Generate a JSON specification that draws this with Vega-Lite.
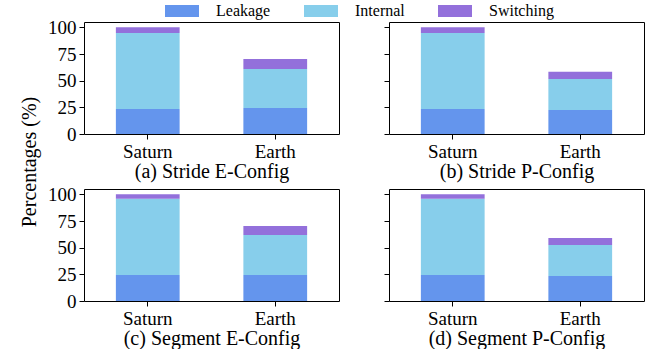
{
  "$schema": "https://vega.github.io/schema/vega-lite/v6.json",
  "padding": {"left": 19, "top": 3, "right": 0, "bottom": 0},
  "bounds": "flush",
  "columns": 2,
  "spacing": {"row": 55, "column": 50},
  "data": {"values": [
    {"panel": "a", "planet": "Saturn", "component": "Leakage", "k": 1, "value": 23.4},
    {"panel": "a", "planet": "Saturn", "component": "Internal", "k": 2, "value": 71.3},
    {"panel": "a", "planet": "Saturn", "component": "Switching", "k": 3, "value": 5.3},
    {"panel": "a", "planet": "Earth", "component": "Leakage", "k": 1, "value": 24.4},
    {"panel": "a", "planet": "Earth", "component": "Internal", "k": 2, "value": 36.5},
    {"panel": "a", "planet": "Earth", "component": "Switching", "k": 3, "value": 9.4},
    {"panel": "b", "planet": "Saturn", "component": "Leakage", "k": 1, "value": 23.4},
    {"panel": "b", "planet": "Saturn", "component": "Internal", "k": 2, "value": 71.3},
    {"panel": "b", "planet": "Saturn", "component": "Switching", "k": 3, "value": 5.3},
    {"panel": "b", "planet": "Earth", "component": "Leakage", "k": 1, "value": 22.5},
    {"panel": "b", "planet": "Earth", "component": "Internal", "k": 2, "value": 29.1},
    {"panel": "b", "planet": "Earth", "component": "Switching", "k": 3, "value": 6.8},
    {"panel": "c", "planet": "Saturn", "component": "Leakage", "k": 1, "value": 24.4},
    {"panel": "c", "planet": "Saturn", "component": "Internal", "k": 2, "value": 71.4},
    {"panel": "c", "planet": "Saturn", "component": "Switching", "k": 3, "value": 4.2},
    {"panel": "c", "planet": "Earth", "component": "Leakage", "k": 1, "value": 24.4},
    {"panel": "c", "planet": "Earth", "component": "Internal", "k": 2, "value": 37.5},
    {"panel": "c", "planet": "Earth", "component": "Switching", "k": 3, "value": 8.4},
    {"panel": "d", "planet": "Saturn", "component": "Leakage", "k": 1, "value": 24.4},
    {"panel": "d", "planet": "Saturn", "component": "Internal", "k": 2, "value": 71.4},
    {"panel": "d", "planet": "Saturn", "component": "Switching", "k": 3, "value": 4.2},
    {"panel": "d", "planet": "Earth", "component": "Leakage", "k": 1, "value": 23.4},
    {"panel": "d", "planet": "Earth", "component": "Internal", "k": 2, "value": 29.1},
    {"panel": "d", "planet": "Earth", "component": "Switching", "k": 3, "value": 6.6}
  ]},
  "concat": [
    {
      "width": 255, "height": 112,
      "transform": [{"filter": "datum.panel === 'a'"}],
      "mark": {"type": "bar"},
      "encoding": {
        "x": {"field": "planet", "type": "nominal", "sort": ["Saturn", "Earth"], "scale": {"paddingInner": 0.5, "paddingOuter": 0.25}, "axis": {"title": "(a) Stride E-Config"}},
        "y": {"field": "value", "type": "quantitative", "scale": {"domain": [0, 105], "nice": false}, "axis": {"title": "Percentages (%)", "titleY": 139.5, "values": [0, 25, 50, 75, 100]}},
        "color": {"field": "component", "type": "nominal", "sort": ["Leakage", "Internal", "Switching"], "scale": {"domain": ["Leakage", "Internal", "Switching"], "range": ["#6495ED", "#87CEEB", "#9370DB"]}},
        "order": {"field": "k", "type": "quantitative", "sort": "ascending"}
      }
    },
    {
      "width": 255, "height": 112,
      "transform": [{"filter": "datum.panel === 'b'"}],
      "mark": {"type": "bar"},
      "encoding": {
        "x": {"field": "planet", "type": "nominal", "sort": ["Saturn", "Earth"], "scale": {"paddingInner": 0.5, "paddingOuter": 0.25}, "axis": {"title": "(b) Stride P-Config"}},
        "y": {"field": "value", "type": "quantitative", "scale": {"domain": [0, 105], "nice": false}, "axis": {"title": null, "labels": false, "values": [0, 25, 50, 75, 100]}},
        "color": {"field": "component", "type": "nominal", "sort": ["Leakage", "Internal", "Switching"]},
        "order": {"field": "k", "type": "quantitative", "sort": "ascending"}
      }
    },
    {
      "width": 255, "height": 112,
      "transform": [{"filter": "datum.panel === 'c'"}],
      "mark": {"type": "bar"},
      "encoding": {
        "x": {"field": "planet", "type": "nominal", "sort": ["Saturn", "Earth"], "scale": {"paddingInner": 0.5, "paddingOuter": 0.25}, "axis": {"title": "(c) Segment E-Config"}},
        "y": {"field": "value", "type": "quantitative", "scale": {"domain": [0, 105], "nice": false}, "axis": {"title": null, "values": [0, 25, 50, 75, 100]}},
        "color": {"field": "component", "type": "nominal", "sort": ["Leakage", "Internal", "Switching"]},
        "order": {"field": "k", "type": "quantitative", "sort": "ascending"}
      }
    },
    {
      "width": 255, "height": 112,
      "transform": [{"filter": "datum.panel === 'd'"}],
      "mark": {"type": "bar"},
      "encoding": {
        "x": {"field": "planet", "type": "nominal", "sort": ["Saturn", "Earth"], "scale": {"paddingInner": 0.5, "paddingOuter": 0.25}, "axis": {"title": "(d) Segment P-Config"}},
        "y": {"field": "value", "type": "quantitative", "scale": {"domain": [0, 105], "nice": false}, "axis": {"title": null, "labels": false, "values": [0, 25, 50, 75, 100]}},
        "color": {"field": "component", "type": "nominal", "sort": ["Leakage", "Internal", "Switching"]},
        "order": {"field": "k", "type": "quantitative", "sort": "ascending"}
      }
    }
  ],
  "config": {
    "font": "Liberation Serif",
    "view": {"stroke": "#000000", "strokeWidth": 1},
    "axis": {
      "grid": false, "domain": false, "tickColor": "#000000", "tickSize": 5, "tickWidth": 1,
      "labelFont": "Liberation Serif", "labelFontSize": 19, "labelColor": "#000000", "labelOverlap": false,
      "titleFont": "Liberation Serif", "titleFontSize": 20, "titleFontWeight": "normal", "titleColor": "#000000"
    },
    "axisX": {"labelAngle": 0, "labelPadding": 3, "titlePadding": 0},
    "axisY": {"labelPadding": 3, "titlePadding": 8},
    "legend": {
      "orient": "none", "legendX": 90, "legendY": -19, "direction": "horizontal", "title": null,
      "padding": 0, "symbolType": "M-2.833,-1H2.833V1H-2.833Z", "symbolSize": 144, "symbolStrokeWidth": 0,
      "labelFont": "Liberation Serif", "labelFontSize": 16, "labelColor": "#000000", "labelOffset": 26, "columnPadding": 33
    }
  }
}
